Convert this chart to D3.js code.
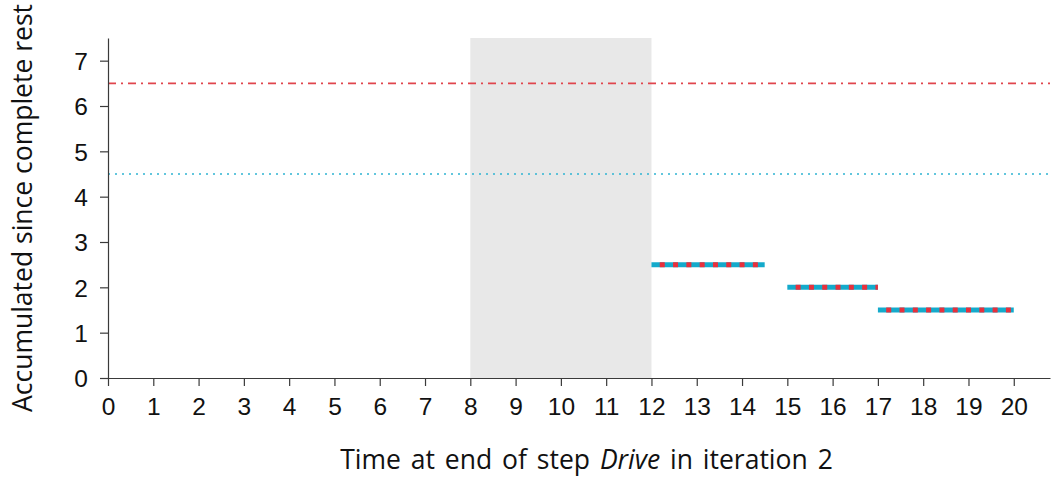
<!DOCTYPE html>
<html>
<head>
<meta charset="utf-8">
<script src="https://cdn.jsdelivr.net/npm/d3@7"></script>
<style>
  html, body { margin: 0; padding: 0; background: #fff; }
  svg { display: block; font-family: "Open Sans", "DejaVu Sans", sans-serif; }
</style>
</head>
<body>
<svg id="chart" width="1052" height="481"></svg>
<script>
// Rest accumulated since the last complete rest, per end time of the Drive step
const xTicks = d3.range(0, 21);
const yTicks = d3.range(0, 8);
const segStart = [12, 15, 17];
const segEnd = [14.5, 17, 20];
const segValue = [2.5, 2, 1.5];
const shadeRange = [8, 12];
const limitHigh = 6.5;   // dash-dot reference line
const limitLow = 4.5;    // dotted reference line

const xDomain = [0, 20.8];
const yDomain = [0, 7.5];

const margin = { left: 108, right: 2, top: 38, bottom: 103 };
const W = 1052, H = 481;

const svg = d3.select("#chart");
const x = d3.scaleLinear().domain(xDomain).range([margin.left, W - margin.right]);
const y = d3.scaleLinear().domain(yDomain).range([H - margin.bottom, margin.top]);

// shaded interval
svg.append("rect")
  .attr("x", x(shadeRange[0]))
  .attr("y", y(yDomain[1]))
  .attr("width", x(shadeRange[1]) - x(shadeRange[0]))
  .attr("height", y(0) - y(yDomain[1]))
  .attr("fill", "#e8e8e8");

// horizontal reference lines
svg.append("line")
  .attr("x1", x(xDomain[0])).attr("x2", x(xDomain[1]))
  .attr("y1", y(limitHigh)).attr("y2", y(limitHigh))
  .attr("stroke", "#e0454d").attr("stroke-width", 1.6)
  .attr("stroke-dasharray", "8,5,2,5");

svg.append("line")
  .attr("x1", x(xDomain[0])).attr("x2", x(xDomain[1]))
  .attr("y1", y(limitLow)).attr("y2", y(limitLow))
  .attr("stroke", "#2fb4d2").attr("stroke-width", 1.6)
  .attr("stroke-dasharray", "2,5");

// step segments: solid blue with red dashes on top
const segs = segStart.map((s, i) => ({ s, e: segEnd[i], v: segValue[i] }));
const g = svg.append("g");
g.selectAll("line.base").data(segs).join("line")
  .attr("class", "base")
  .attr("x1", d => x(d.s)).attr("x2", d => x(d.e))
  .attr("y1", d => y(d.v)).attr("y2", d => y(d.v))
  .attr("stroke", "#14aacb").attr("stroke-width", 5);
g.selectAll("line.dash").data(segs).join("line")
  .attr("class", "dash")
  .attr("x1", d => x(d.s)).attr("x2", d => x(d.e))
  .attr("y1", d => y(d.v)).attr("y2", d => y(d.v))
  .attr("stroke", "#e8303c").attr("stroke-width", 5)
  .attr("stroke-dasharray", "5,8.3")
  .attr("stroke-dashoffset", -8.3);

// axes
const axisColor = "#3a3a3a";
const xAxis = svg.append("g")
  .attr("transform", `translate(0,${y(0)})`)
  .call(d3.axisBottom(x).tickValues(xTicks).tickFormat(d3.format("d")).tickSize(8).tickSizeOuter(0));
const yAxis = svg.append("g")
  .attr("transform", `translate(${x(0)},0)`)
  .call(d3.axisLeft(y).tickValues(yTicks).tickFormat(d3.format("d")).tickSize(8).tickSizeOuter(0));

[xAxis, yAxis].forEach(a => {
  a.select(".domain").attr("stroke", axisColor).attr("stroke-width", 1.2);
  a.selectAll(".tick line").attr("stroke", axisColor).attr("stroke-width", 1.2);
  a.selectAll(".tick text").attr("fill", "#111").style("font-size", "24.5px");
});
xAxis.selectAll(".tick text").attr("dy", null).attr("y", 37);
yAxis.selectAll(".tick text").attr("x", -20).attr("dy", "0.36em");

// axis titles
const xt = svg.append("text")
  .attr("x", 586.5).attr("y", 469)
  .attr("text-anchor", "middle")
  .attr("fill", "#111").style("font-size", "26.5px")
  .style("word-spacing", "3px");
xt.append("tspan").text("Time at end of step ");
xt.append("tspan").attr("font-style", "italic").text("Drive");
xt.append("tspan").text(" in iteration 2");

svg.append("text")
  .attr("transform", `translate(32,${(y(0) + y(yDomain[1])) / 2}) rotate(-90)`)
  .attr("text-anchor", "middle")
  .attr("fill", "#111").style("font-size", "26.5px")
  .text("Accumulated since complete rest");
</script>
</body>
</html>
